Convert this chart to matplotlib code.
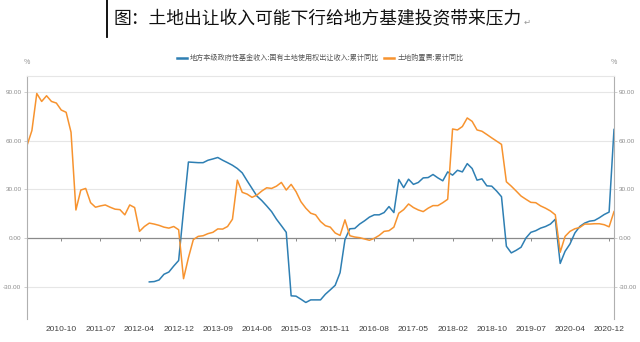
import matplotlib
matplotlib.use("Agg")
import matplotlib.pyplot as plt
from matplotlib.lines import Line2D
import numpy as np

plt.rcParams['font.family'] = ['Noto Sans CJK SC', 'DejaVu Sans']

# months with data (no January), 2010-03 .. 2021-02
months = []
for y in range(2010, 2022):
    for m in range(2, 13):
        months.append(f"{y}-{m:02d}")
months = months[1:months.index("2021-02") + 1]

tick_labels = ["2010-10", "2011-07", "2012-04", "2012-12", "2013-09", "2014-06", "2015-03",
               "2015-11", "2016-08", "2017-05", "2018-02", "2018-10", "2019-07", "2020-04", "2020-12"]

# 土地购置费:累计同比
land_fee = [57.1, 66.3, 89.2, 84.3, 87.8, 84.3, 83.3, 79.0, 77.6, 65.3,
            17.3, 29.6, 30.6, 21.8, 19.0, 19.8, 20.4, 19.0, 17.8, 17.5,
            14.3, 20.4, 18.8, 4.1, 7.1, 9.2, 8.6, 7.8, 6.7, 6.1,
            7.1, 5.1, -25.1, -12.2, -1.0, 1.0, 1.4, 2.7, 3.5, 5.6,
            5.5, 7.1, 11.6, 35.7, 28.2, 27.1, 25.1, 26.5, 29.0, 31.0,
            30.6, 32.0, 34.3, 29.6, 33.1, 28.6, 22.4, 18.4, 15.3, 14.3,
            10.2, 7.6, 6.7, 3.1, 1.6, 11.2, 1.4, 0.6, 0.2, -0.6,
            -1.4, -0.2, 1.6, 4.1, 4.5, 6.7, 15.3, 17.5, 21.0, 18.8,
            17.3, 16.3, 18.4, 20.0, 20.0, 21.8, 23.9, 67.3, 66.7, 68.8,
            74.1, 72.0, 66.7, 65.9, 63.9, 61.8, 59.8, 57.8, 34.7, 32.0,
            29.0, 25.9, 23.9, 22.0, 21.8, 19.8, 18.4, 16.7, 14.3, -8.8,
            1.0, 4.1, 5.7, 6.5, 8.6, 8.6, 8.8, 8.8, 8.2, 6.9,
            16.3]

# 地方本级政府性基金收入:国有土地使用权出让收入:累计同比
land_rev = [None] * 25 + [
    -27.1, -26.9, -25.9, -22.4, -21.0, -17.3, -13.9, 17.0, 46.9, 46.7,
    46.5, 46.5, 48.0, 48.8, 49.7, 48.0, 46.5, 44.9, 42.9, 40.2,
    35.3, 30.6, 25.9, 23.1, 19.8, 16.3, 11.6, 7.6, 3.5, -35.7,
    -35.9, -37.8, -39.8, -38.2, -38.2, -38.2, -34.7, -32.0, -29.2, -21.4,
    -1.0, 5.7, 5.9, 8.6, 10.6, 12.9, 14.3, 14.3, 15.7, 19.4,
    15.7, 36.1, 31.1, 36.3, 33.1, 34.3, 37.1, 37.3, 39.2, 37.1,
    35.3, 40.8, 38.8, 41.8, 40.8, 45.9, 42.9, 35.7, 36.5, 32.2,
    32.0, 29.0, 25.5, -5.1, -9.2, -7.6, -5.7, 0.0, 3.5, 4.5,
    6.1, 7.1, 8.6, 11.6, -15.7, -8.2, -3.7, 3.1, 7.1, 9.2,
    10.4, 10.8, 12.5, 14.5, 16.0, 67.0]

x = np.arange(len(months))
fee = np.array(land_fee, dtype=float)
rev = np.array([np.nan if v is None else v for v in land_rev], dtype=float)

fig = plt.figure(figsize=(6.4, 3.42), dpi=100)
ax = fig.add_axes([27 / 640, 23 / 342, 587 / 640, 243 / 342])

blue = "#2e7fb3"
orange = "#f7932f"
grey = "#8c8c8c"
num_font = ['Liberation Sans', 'DejaVu Sans']

ax.plot(x, rev, color=blue, lw=1.1, label="地方本级政府性基金收入:国有土地使用权出让收入:累计同比")
ax.plot(x, fee, color=orange, lw=1.1, label="土地购置费:累计同比")

ax.set_xlim(0, len(months) - 1)
ax.set_ylim(-50, 100)
yt = [-30, 0, 30, 60, 90]
ax.set_yticks(yt)
ax.set_yticklabels([f"{v:.2f}" for v in yt], fontsize=4.6, color=grey, family=num_font)
ax.tick_params(axis='y', length=2, width=0.5, color="#bbbbbb", pad=2)
for v in [-30, 30, 60, 90]:
    ax.axhline(v, color="#e6e6e6", lw=0.8, zorder=0)
ax.axhline(0, color="#8a8a8a", lw=0.9, zorder=1)

tick_pos = [months.index(t) for t in tick_labels]
ax.set_xticks(tick_pos)
ax.set_xticklabels(tick_labels, fontsize=6.0, color="#404040", family=num_font)
ax.tick_params(axis='x', length=0, pad=5)
ax.vlines(tick_pos, -1.8, 0, color="#8a8a8a", lw=0.7)

for s in ['left', 'right']:
    ax.spines[s].set_color("#b0b0b0")
    ax.spines[s].set_linewidth(0.8)
ax.spines['top'].set_color("#e6e6e6")
ax.spines['top'].set_linewidth(0.8)
ax.spines['bottom'].set_visible(False)

ax2 = ax.twinx()
ax2.set_ylim(ax.get_ylim())
ax2.set_yticks(yt)
ax2.set_yticklabels([f"{v:.2f}" for v in yt], fontsize=4.6, color=grey, family=num_font)
ax2.tick_params(axis='y', length=2, width=0.5, color="#bbbbbb", pad=1.5)
for s in ax2.spines.values():
    s.set_visible(False)

fig.text(27 / 640, 1 - 62 / 342, "%", fontsize=5, color=grey, ha='center', va='center')
fig.text(614 / 640, 1 - 62 / 342, "%", fontsize=5, color=grey, ha='center', va='center')

leg = ax.legend(loc='center', bbox_to_anchor=(0.5, 1 - 58 / 342), bbox_transform=fig.transFigure,
                ncol=2, frameon=False, fontsize=5.1, handlelength=1.4, handletextpad=0.4,
                columnspacing=0.8)
for t in leg.get_texts():
    t.set_color("#555555")
for h in leg.get_lines():
    h.set_linewidth(1.8)

fig.text(0.497, 1 - 19 / 342, "图：土地出让收入可能下行给地方基建投资带来压力", fontsize=12.8,
         ha='center', va='center', color="#111111")
fig.text(527 / 640, 1 - 22 / 342, "↵", fontsize=6, color="#999999", ha='center', va='center',
         family=['DejaVu Sans'])
fig.add_artist(Line2D([107 / 640, 107 / 640], [1.0, 1 - 37 / 342], color="black", lw=1.3))

fig.savefig("out.png", dpi=100)
